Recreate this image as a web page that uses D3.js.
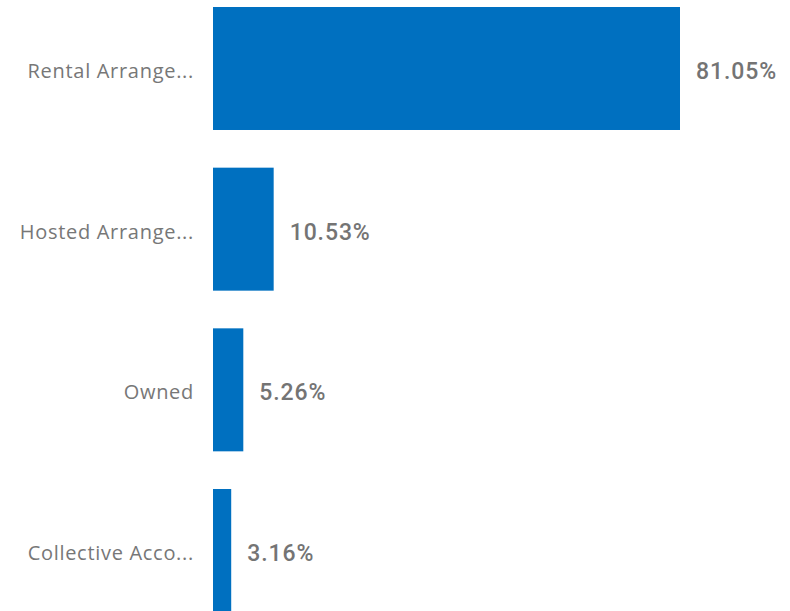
<!DOCTYPE html>
<html><head><meta charset="utf-8">
<script src="https://cdn.jsdelivr.net/npm/d3@7"></script>
<style>html,body{margin:0;padding:0;background:#fff;overflow:hidden}</style>
</head><body>
<svg id="c" width="790" height="611"></svg>
<script>
const categories = ["Rental Arrange...", "Hosted Arrange...", "Owned", "Collective Acco..."];
const values = [81.05, 10.53, 5.26, 3.16];
const valueLabels = ["81.05%", "10.53%", "5.26%", "3.16%"];

const svg = d3.select("#c");
const x = d3.scaleLinear().domain([0, 81.05]).range([213, 680]);
const y = d3.scaleBand().domain(categories).range([7, 612]).paddingInner(0.2345).paddingOuter(0);

svg.selectAll("rect.bar").data(values).join("rect")
  .attr("x", x(0))
  .attr("y", (d, i) => y(categories[i]))
  .attr("width", d => x(d) - x(0))
  .attr("height", y.bandwidth())
  .attr("fill", "#0070C0");

svg.selectAll("text.cat").data(categories).join("text")
  .attr("class", "cat")
  .attr("x", 194)
  .attr("y", d => y(d) + y.bandwidth() / 2)
  .attr("dy", "0.48em")
  .attr("text-anchor", "end")
  .attr("font-family", "'Open Sans', sans-serif")
  .attr("font-size", 20)
  .attr("letter-spacing", 0.7)
  .attr("fill", "#777777")
  .text(d => d);

svg.selectAll("text.val").data(values).join("text")
  .attr("class", "val")
  .attr("x", d => x(d) + 16)
  .attr("y", (d, i) => y(categories[i]) + y.bandwidth() / 2)
  .attr("dy", "0.45em")
  .attr("font-family", "Roboto, sans-serif")
  .attr("font-size", 23)
  .attr("font-weight", 500)
  .attr("letter-spacing", 0.9)
  .attr("fill", "#747474")
  .text((d, i) => valueLabels[i]);
</script>
</body></html>
